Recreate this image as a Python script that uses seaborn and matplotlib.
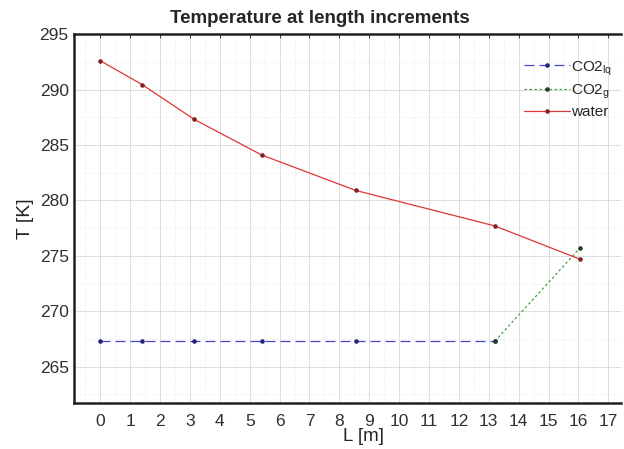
import matplotlib
matplotlib.use("Agg")
import matplotlib.pyplot as plt
import seaborn as sns
import pandas as pd
from matplotlib.ticker import MultipleLocator

# values
L_lq = [0, 1.4, 3.15, 5.4, 8.55, 13.2]
T_lq = [267.3, 267.3, 267.3, 267.3, 267.3, 267.3]
L_g = [13.2, 16.05]
T_g = [267.3, 275.7]
L_water = [0, 1.4, 3.15, 5.4, 8.55, 13.2, 16.05]
T_water = [292.6, 290.45, 287.3, 284.1, 280.9, 277.7, 274.7]

df_lq = pd.DataFrame({'L': L_lq, 'T': T_lq})
df_g = pd.DataFrame({'L': L_g, 'T': T_g})
df_w = pd.DataFrame({'L': L_water, 'T': T_water})

sns.set_style("white")
plt.rcParams['font.family'] = ['Liberation Sans', 'DejaVu Sans']
plt.rcParams['mathtext.fontset'] = 'custom'
plt.rcParams['mathtext.rm'] = 'Liberation Sans'

fig = plt.figure(figsize=(6.24, 4.49), dpi=100)
ax = fig.add_axes([0.119, 0.103, 0.876, 0.821])

sns.lineplot(data=df_lq, x='L', y='T', ax=ax, color='#4545d0', lw=0.9,
             linestyle=(0, (8, 4)), marker='.', markersize=5,
             markeredgecolor='#202080', markerfacecolor='#202080',
             label='CO2$_{\\mathrm{lq}}$', sort=False)
sns.lineplot(data=df_g, x='L', y='T', ax=ax, color='#45a045', lw=0.9,
             linestyle=(0, (2, 2)), marker='.', markersize=5,
             markeredgecolor='#204020', markerfacecolor='#204020',
             label='CO2$_{\\mathrm{g}}$', sort=False)
sns.lineplot(data=df_w, x='L', y='T', ax=ax, color='#e03535', lw=0.9,
             marker='.', markersize=5,
             markeredgecolor='#802020', markerfacecolor='#802020',
             label='water', sort=False)

ax.set_xlim(-0.87, 17.42)
ax.set_ylim(261.75, 295)
ax.xaxis.set_major_locator(MultipleLocator(1))
ax.yaxis.set_major_locator(MultipleLocator(5))
ax.yaxis.set_minor_locator(MultipleLocator(2.5))
ax.xaxis.set_minor_locator(MultipleLocator(0.5))

ax.grid(True, which='major', color='#d8d8d8', lw=0.6, linestyle='-')
ax.grid(True, which='minor', color='#e6e6e6', lw=0.6, linestyle=':')

ax.tick_params(which='both', direction='in', top=True, right=False,
               labelsize=12.5, length=3, width=0.8, color='#404040',
               labelcolor='#303030')
ax.tick_params(axis='x', which='minor', length=0)
ax.tick_params(axis='x', pad=8)
ax.tick_params(axis='y', pad=4)

for name in ['left', 'bottom', 'top']:
    ax.spines[name].set_linewidth(1.8)
    ax.spines[name].set_color('#202020')
ax.spines['right'].set_visible(False)

ax.set_title('Temperature at length increments', fontsize=13.5,
             fontweight='bold', pad=8, x=0.45)
ax.set_xlabel('L [m]', fontsize=13.5)
ax.xaxis.set_label_coords(0.53, -0.068)
ax.set_ylabel('T [K]', fontsize=14, labelpad=4)

leg = ax.legend(loc='upper right', frameon=False, fontsize=11,
                handlelength=3.0, handletextpad=0.1, labelspacing=0.3,
                bbox_to_anchor=(1.01, 0.97))

fig.savefig('out.png', dpi=100)
